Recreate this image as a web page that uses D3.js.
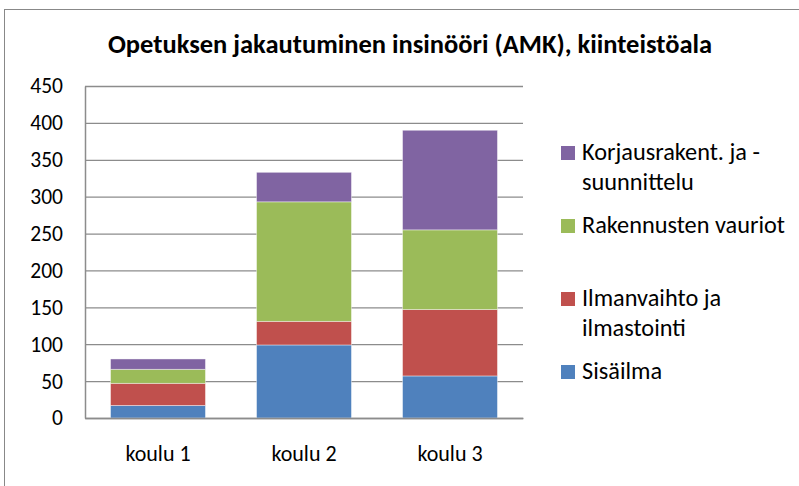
<!DOCTYPE html>
<html>
<head>
<meta charset="utf-8">
<script src="https://cdn.jsdelivr.net/npm/d3@7"></script>
<style>
  body { margin: 0; background: #fff; }
  text { font-family: Carlito, Lato, "Open Sans", sans-serif; fill: #000; }
</style>
</head>
<body>
<div id="chart"></div>
<script>
const schools = ["koulu 1", "koulu 2", "koulu 3"];
const sisailma = [17, 99, 57];
const ilmanvaihto = [30, 32, 90];
const vauriot = [19, 162, 108];
const korjaus = [14, 40, 135];
const yTicks = [0, 50, 100, 150, 200, 250, 300, 350, 400, 450];

const series = [
  { key: "sisailma", label: ["Sisäilma"], values: sisailma, color: "#4F81BD" },
  { key: "ilmanvaihto", label: ["Ilmanvaihto ja", "ilmastointi"], values: ilmanvaihto, color: "#C0504D" },
  { key: "vauriot", label: ["Rakennusten vauriot"], values: vauriot, color: "#9BBB59" },
  { key: "korjaus", label: ["Korjausrakent. ja -", "suunnittelu"], values: korjaus, color: "#8064A2" }
];

const W = 799, H = 486;
const MARGIN = { TOP: 86, LEFT: 85, RIGHT: 276, BOTTOM: 68 };
const WIDTH = W - MARGIN.LEFT - MARGIN.RIGHT;
const HEIGHT = H - MARGIN.TOP - MARGIN.BOTTOM;

const svg = d3.select("#chart").append("svg")
  .attr("width", W).attr("height", H);

// OUTER FRAME
svg.append("rect")
  .attr("x", 4.5).attr("y", 9.5)
  .attr("width", W + 10).attr("height", H + 10)
  .attr("fill", "none").attr("stroke", "#888").attr("stroke-width", 1);

// TITLE
svg.append("text")
  .attr("x", 410).attr("y", 53)
  .attr("text-anchor", "middle")
  .attr("font-size", 26.5).attr("font-weight", "bold")
  .text("Opetuksen jakautuminen insinööri (AMK), kiinteistöala");

const g = svg.append("g").attr("transform", `translate(${MARGIN.LEFT}, ${MARGIN.TOP})`);

const x = d3.scaleBand().domain(schools).range([0, WIDTH]).paddingInner(0.35).paddingOuter(0.175);
const y = d3.scaleLinear().domain([0, 450]).range([HEIGHT, 0]);

// GRIDLINES
g.append("g")
  .call(d3.axisLeft(y).tickValues(yTicks).tickSize(-WIDTH).tickFormat(""))
  .call(a => a.select(".domain").remove())
  .selectAll("line").attr("stroke", "#8c8c8c").attr("stroke-width", 1.3);

// STACKED BARS
const rows = schools.map((s, i) => {
  const r = { school: s };
  series.forEach(se => (r[se.key] = se.values[i]));
  return r;
});
const stacked = d3.stack().keys(series.map(s => s.key))(rows);

g.selectAll(".layer")
  .data(stacked)
  .enter()
  .append("g")
  .attr("fill", (d, i) => series[i].color)
  .selectAll("rect")
  .data(d => d)
  .enter()
  .append("rect")
  .attr("x", d => x(d.data.school))
  .attr("width", x.bandwidth())
  .attr("y", d => y(d[1]))
  .attr("height", d => y(d[0]) - y(d[1]))
  .attr("stroke", "rgba(255,255,255,0.5)")
  .attr("stroke-width", 0.8);

// AXES
const yAxis = g.append("g")
  .call(d3.axisLeft(y).tickValues(yTicks).tickSize(0).tickPadding(22));
yAxis.select(".domain").attr("stroke", "#8c8c8c").attr("stroke-width", 1.5);
yAxis.selectAll("text").attr("font-size", 21.5);

const xAxis = g.append("g")
  .attr("transform", `translate(0, ${HEIGHT})`)
  .call(d3.axisBottom(x).tickSize(0).tickPadding(27));
xAxis.select(".domain").attr("stroke", "#8c8c8c").attr("stroke-width", 1.5);
xAxis.selectAll("text").attr("font-size", 22);

// LEGEND
const legendY = [{ k: "korjaus", y: 160 }, { k: "vauriot", y: 233 }, { k: "ilmanvaihto", y: 306 }, { k: "sisailma", y: 379 }];
const legend = svg.append("g");
legendY.forEach(l => {
  const s = series.find(d => d.key === l.k);
  legend.append("rect")
    .attr("x", 561).attr("y", l.y - 14)
    .attr("width", 14).attr("height", 14)
    .attr("fill", s.color);
  s.label.forEach((line, j) => {
    legend.append("text")
      .attr("x", 582).attr("y", l.y + j * 29.5)
      .attr("font-size", 24.3)
      .text(line);
  });
});
</script>
</body>
</html>
